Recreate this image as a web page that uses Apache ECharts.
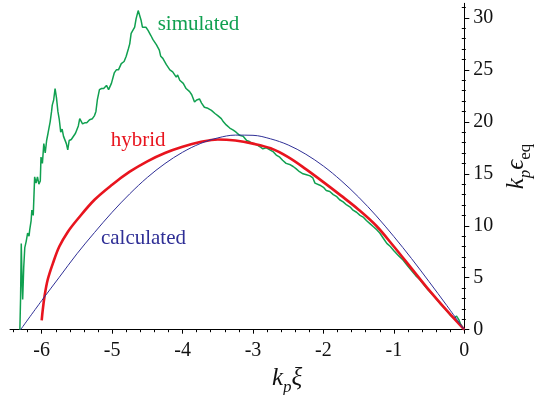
<!DOCTYPE html>
<html><head><meta charset="utf-8">
<script src="https://cdn.jsdelivr.net/npm/echarts@6/dist/echarts.min.js"></script>
<style>html,body{margin:0;padding:0;background:#fff}#c{width:543px;height:395px}</style>
</head><body><div id="c"></div>
<script>
// ---- data ----
const xTicks = [-6, -5, -4, -3, -2, -1, 0];
const yTicks = [0, 5, 10, 15, 20, 25, 30];
const xMinorTicks = [-6.4, -6.2, -5.8, -5.6, -5.4, -5.2, -4.8, -4.6, -4.4, -4.2, -3.8, -3.6, -3.4, -3.2, -2.8, -2.6, -2.4, -2.2, -1.8, -1.6, -1.4, -1.2, -0.8, -0.6, -0.4, -0.2];
const yMinorTicks = [1, 2, 3, 4, 6, 7, 8, 9, 11, 12, 13, 14, 16, 17, 18, 19, 21, 22, 23, 24, 26, 27, 28, 29, 31];

const simulatedX = [-6.31,-6.30,-6.29,-6.28,-6.27,-6.255,-6.24,-6.22,-6.20,-6.18,-6.17,-6.15,-6.14,-6.12,-6.10,-6.08,-6.06,-6.04,-6.02,-6.01,-5.99,-5.97,-5.95,-5.93,-5.91,-5.88,-5.86,-5.85,-5.83,-5.81,-5.79,-5.77,-5.75,-5.73,-5.71,-5.69,-5.67,-5.65,-5.63,-5.61,-5.58,-5.56,-5.52,-5.48,-5.46,-5.44,-5.42,-5.39,-5.36,-5.32,-5.28,-5.25,-5.23,-5.21,-5.18,-5.15,-5.12,-5.08,-5.05,-5.01,-4.97,-4.94,-4.91,-4.87,-4.83,-4.80,-4.77,-4.75,-4.73,-4.71,-4.68,-4.66,-4.63,-4.61,-4.59,-4.57,-4.55,-4.52,-4.49,-4.47,-4.45,-4.42,-4.40,-4.37,-4.33,-4.31,-4.28,-4.23,-4.21,-4.18,-4.14,-4.09,-4.07,-4.04,-3.99,-3.95,-3.90,-3.87,-3.83,-3.80,-3.76,-3.73,-3.69,-3.64,-3.59,-3.54,-3.50,-3.45,-3.42,-3.38,-3.33,-3.28,-3.24,-3.19,-3.14,-3.09,-3.05,-3.00,-2.95,-2.90,-2.86,-2.81,-2.76,-2.71,-2.67,-2.62,-2.58,-2.53,-2.48,-2.43,-2.39,-2.34,-2.29,-2.24,-2.19,-2.15,-2.12,-2.05,-2.00,-1.96,-1.91,-1.86,-1.81,-1.77,-1.72,-1.67,-1.62,-1.58,-1.53,-1.48,-1.43,-1.39,-1.34,-1.29,-1.24,-1.20,-1.15,-1.10,-1.05,-1.00,-0.93,-0.87,-0.80,-0.75,-0.69,-0.63,-0.57,-0.51,-0.45,-0.39,-0.33,-0.27,-0.20,-0.15,-0.11,-0.08,-0.05,-0.02,0];
const simulatedY = [0,3,8.3,5,2.9,6,7.9,8.5,9.3,9.0,9.6,10.5,11.5,11.0,14.7,14.1,14.7,14.0,14.3,16.6,16.0,17.9,17.0,18.2,18.9,20.0,21.0,21.6,22.1,23.2,22.3,21.0,20.2,19.0,19.3,18.6,18.5,17.9,17.3,18.2,18.3,18.4,18.9,19.6,20.3,20.2,19.8,19.9,19.9,20.2,20.3,20.6,21.0,22.1,23.1,23.2,23.2,23.5,23.1,23.7,24.7,25.0,25.0,25.6,25.8,26.3,27.0,27.5,28.5,28.6,29.1,29.9,30.7,30.6,29.8,29.1,29.2,29.1,28.8,28.9,28.3,27.9,28.0,27.4,26.9,26.3,26.1,25.5,25.6,25.0,24.8,24.3,24.5,24.0,23.7,23.2,22.9,22.6,21.9,22.1,22.2,21.8,21.4,21.3,21.1,20.8,20.6,20.3,20.0,19.7,19.4,19.2,19.0,18.7,18.6,18.2,18.1,17.9,17.8,17.6,17.4,17.5,17.3,17.1,16.8,16.6,16.3,16.0,15.9,15.7,15.5,15.2,15.0,14.9,14.8,14.6,14.1,13.9,13.7,13.4,13.3,13.0,12.8,12.5,12.3,12.0,11.8,11.5,11.3,11.0,10.8,10.5,10.2,9.9,9.6,9.3,8.8,8.3,8.0,7.6,7.1,6.7,6.1,5.7,5.2,4.8,4.3,3.8,3.4,2.9,2.4,2.0,1.4,1.1,1.3,1.0,0.5,0.2,0];

const hybridX = [-6.0,-5.985,-5.96,-5.915,-5.84,-5.75,-5.63,-5.5,-5.25,-5.0,-4.75,-4.5,-4.25,-4.0,-3.75,-3.5,-3.25,-3.0,-2.75,-2.5,-2.25,-2.0,-1.75,-1.5,-1.25,-1.0,-0.75,-0.5,-0.25,0];
const hybridY = [0.9,1.9,3.2,4.8,6.4,8.0,9.4,10.55,12.5,13.95,15.2,16.2,17.0,17.6,18.05,18.3,18.2,17.9,17.45,16.6,15.45,14.2,12.9,11.55,10.0,8.0,5.9,3.8,1.85,0];

const calculatedX = [-6.3,-6.0,-5.75,-5.5,-5.25,-5.0,-4.75,-4.5,-4.25,-4.0,-3.75,-3.5,-3.25,-3.0,-2.75,-2.5,-2.25,-2.0,-1.75,-1.5,-1.25,-1.0,-0.75,-0.5,-0.25,0];
const calculatedY = [0,2.8,5.05,7.3,9.35,11.3,13.07,14.65,15.98,17.07,17.9,18.45,18.72,18.7,18.36,17.77,16.88,15.74,14.35,12.75,10.95,8.96,6.85,4.62,2.34,0];

const seriesLabels = ['simulated', 'hybrid', 'calculated'];
const labelAnchorsX = [-3.774, -4.63, -4.555];
const labelAnchorsY = [29.34, 18.2, 8.8];

// ---- chart ----
const zip = (xs, ys) => xs.map((x, i) => [x, ys[i]]);
const SERIF = 'Liberation Serif';
const colors = ['#10a050', '#e8141e', '#2f2f96'];

const chart = echarts.init(document.getElementById('c'), null, { renderer: 'canvas' });

const lbl = (i) => ({
  coord: [labelAnchorsX[i], labelAnchorsY[i]],
  symbol: 'circle', symbolSize: 0,
  label: { show: true, position: 'inside', formatter: seriesLabels[i], color: colors[i], fontFamily: SERIF, fontSize: 21 }
});

const xMinX = -6.45, yMax = 31.4;

chart.setOption({
  animation: false,
  backgroundColor: '#fff',
  grid: { left: 10, right: 78.7, top: 3.3, bottom: 65.3, containLabel: false, outerBoundsMode: 'none' },
  xAxis: [
    {
      type: 'value', min: xMinX, max: 0, position: 'bottom',
      axisLine: { show: true, onZero: false, lineStyle: { color: '#000', width: 1 } },
      axisTick: { show: true, inside: false, length: 4, customValues: xTicks, lineStyle: { color: '#000' } },
      axisLabel: { show: true, customValues: xTicks, margin: 11, color: '#111', fontFamily: SERIF, fontSize: 20 },
      splitLine: { show: false },
      name: '{i|k}{s|p}{i|ξ}',
      nameLocation: 'middle', nameGap: 32,
      nameTextStyle: {
        padding: [0, 0, 0, 100],
        rich: {
          i: { fontFamily: SERIF, fontStyle: 'italic', fontSize: 25, color: '#111', verticalAlign: 'bottom', padding: [0, 0, 5, 0] },
          s: { fontFamily: SERIF, fontStyle: 'italic', fontSize: 17, color: '#111', verticalAlign: 'bottom' }
        }
      }
    },
    {
      type: 'value', min: xMinX, max: 0, position: 'bottom', gridIndex: 0,
      axisLine: { show: false, onZero: false },
      axisTick: { show: true, inside: false, length: 2.5, customValues: xMinorTicks, lineStyle: { color: '#000' } },
      axisLabel: { show: false },
      splitLine: { show: false }
    }
  ],
  yAxis: [
    {
      type: 'value', min: 0, max: yMax, position: 'right',
      axisLine: { show: true, onZero: false, lineStyle: { color: '#000', width: 1 } },
      axisTick: { show: true, inside: false, length: 5, customValues: yTicks, lineStyle: { color: '#000' } },
      axisLabel: { show: true, customValues: yTicks, margin: 9, color: '#111', fontFamily: SERIF, fontSize: 20 },
      splitLine: { show: false },
      name: '{i|k}{s|p}{i|ϵ}{e|eq}',
      nameLocation: 'middle', nameGap: 31, nameRotate: 90,
      nameTextStyle: {
        padding: [0, 0, 0, 0],
        rich: {
          i: { fontFamily: SERIF, fontStyle: 'italic', fontSize: 25, color: '#111', verticalAlign: 'bottom', padding: [0, 0, 5, 0] },
          s: { fontFamily: SERIF, fontStyle: 'italic', fontSize: 17, color: '#111', verticalAlign: 'bottom' },
          e: { fontFamily: SERIF, fontSize: 17, color: '#111', verticalAlign: 'bottom' }
        }
      }
    },
    {
      type: 'value', min: 0, max: yMax, position: 'right',
      axisLine: { show: false, onZero: false },
      axisTick: { show: true, inside: true, length: 2.5, customValues: yMinorTicks, lineStyle: { color: '#000' } },
      axisLabel: { show: false }, splitLine: { show: false }
    },
    {
      type: 'value', min: 0, max: yMax, position: 'right',
      axisLine: { show: false, onZero: false },
      axisTick: { show: true, inside: false, length: 1.5, customValues: yMinorTicks, lineStyle: { color: '#000' } },
      axisLabel: { show: false }, splitLine: { show: false }
    }
  ],
  series: [
    {
      name: 'simulated', type: 'line', data: zip(simulatedX, simulatedY), showSymbol: false,
      lineStyle: { color: colors[0], width: 1.5 }, z: 3,
      markPoint: { silent: true, data: [lbl(0)] }
    },
    {
      name: 'hybrid', type: 'line', data: zip(hybridX, hybridY), showSymbol: false, smooth: 0.35,
      lineStyle: { color: colors[1], width: 2.6 }, z: 4,
      markPoint: { silent: true, data: [lbl(1)] }
    },
    {
      name: 'calculated', type: 'line', data: zip(calculatedX, calculatedY), showSymbol: false, smooth: 0.35,
      lineStyle: { color: colors[2], width: 1 }, z: 5,
      markPoint: { silent: true, data: [lbl(2)] }
    }
  ]
});
</script></body></html>
